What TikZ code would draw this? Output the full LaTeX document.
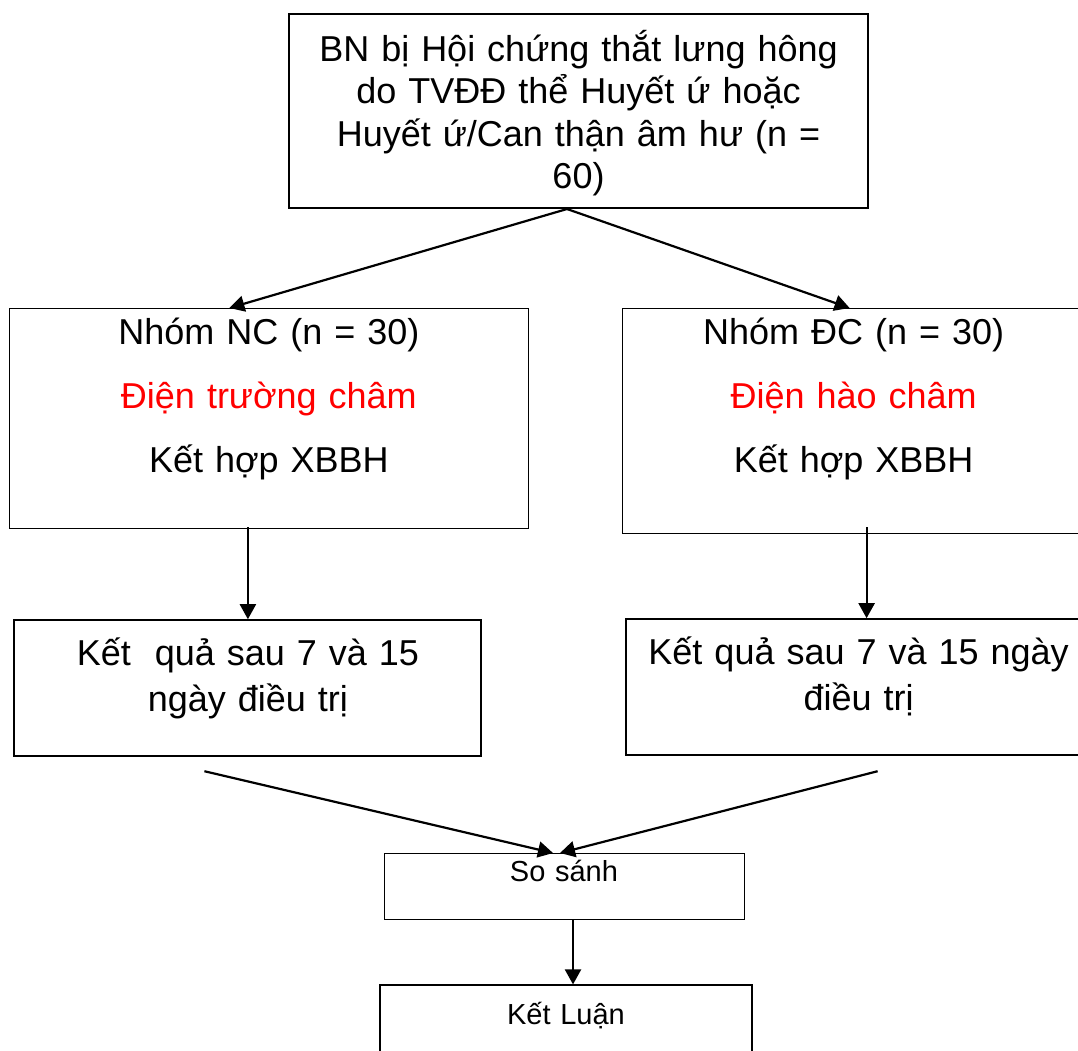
\documentclass[tikz,border=0pt]{standalone}
\usepackage{fontspec}
\setmainfont{Liberation Sans}
\usepackage{xcolor}
\usepackage{tikz}
\usetikzlibrary{arrows.meta, positioning}
\definecolor{MethodRed}{HTML}{FF0000}

\begin{document}
\begin{tikzpicture}[
  topbox/.style={rectangle, draw, line width=2pt, inner sep=0pt,
    align=center, font=\fontsize{36}{42.5}\selectfont},
  groupbox/.style={rectangle, draw, line width=1.2pt, inner sep=0pt,
    align=center, font=\fontsize{36}{64}\selectfont,
    text height=36pt, text depth=184pt},
  resultbox/.style={rectangle, draw, line width=2pt, inner sep=0pt,
    align=center, font=\fontsize{36}{46}\selectfont,
    text height=45pt, text depth=91pt},
  smallbox/.style={rectangle, draw, inner sep=0pt,
    align=center, font=\fontsize{29}{34}\selectfont},
  arr/.style={-{Triangle[length=15pt, width=16pt]}, line width=2.2pt}
]

\useasboundingbox (0,0) rectangle (1078pt,-1050pt);

\node[topbox, anchor=north west, text width=579pt,
  text height=47pt, text depth=147pt] (top) at (288pt,-13pt)
  {BN bị Hội chứng thắt lưng hông\\do TVĐĐ thể Huyết ứ hoặc\\
   Huyết ứ/Can thận âm hư (n =\\60)};

\node[groupbox, below left=99pt and 49.5pt of top.south, text width=519pt] (nc)
  {Nhóm NC (n = 30)\\\textcolor{MethodRed}{Điện trường châm}\\Kết hợp XBBH};
\node[groupbox, below right=99pt and 43.5pt of top.south, text width=462pt,
  text depth=189pt] (dc)
  {Nhóm ĐC (n = 30)\\\textcolor{MethodRed}{Điện hào châm}\\Kết hợp XBBH};

\node[resultbox, below=90pt of nc.south, xshift=-21pt, text width=467pt] (ncres)
  {Kết~ quả sau 7 và 15\\ngày điều trị};
\node[resultbox, below=84pt of dc.south, xshift=5pt, text width=466pt] (dcres)
  {Kết quả sau 7 và 15 ngày\\điều trị};

\node[smallbox, anchor=north, text width=360pt, text height=28pt,
  text depth=38pt] (sosanh) at (564pt,-853pt) {So sánh};
\node[smallbox, line width=2pt, below=65pt of sosanh.south, xshift=2pt,
  text width=372pt, text height=39pt, text depth=40pt] (ketluan) {Kết Luận};

\draw[arr] ([xshift=-11.5pt]top.south) -- ([xshift=-39.5pt]nc.north);
\draw[arr] ([xshift=-11.5pt]top.south) -- ([xshift=-4pt]dc.north);

\draw[arr] ([yshift=2pt]ncres.north |- nc.south) -- (ncres.north);
\draw[arr] ([xshift=13pt,yshift=7pt]dc.south) -- ([xshift=13pt]dc.south |- dcres.north);

\draw[arr] ([xshift=-43.5pt,yshift=-14pt]ncres.south) -- ([xshift=-11pt]sosanh.north);
\draw[arr] ([xshift=19pt,yshift=-15pt]dcres.south) -- ([xshift=-4pt]sosanh.north);

\draw[arr] ([xshift=9pt]sosanh.south) -- ([xshift=9pt]sosanh.south |- ketluan.north);

\end{tikzpicture}
\end{document}
